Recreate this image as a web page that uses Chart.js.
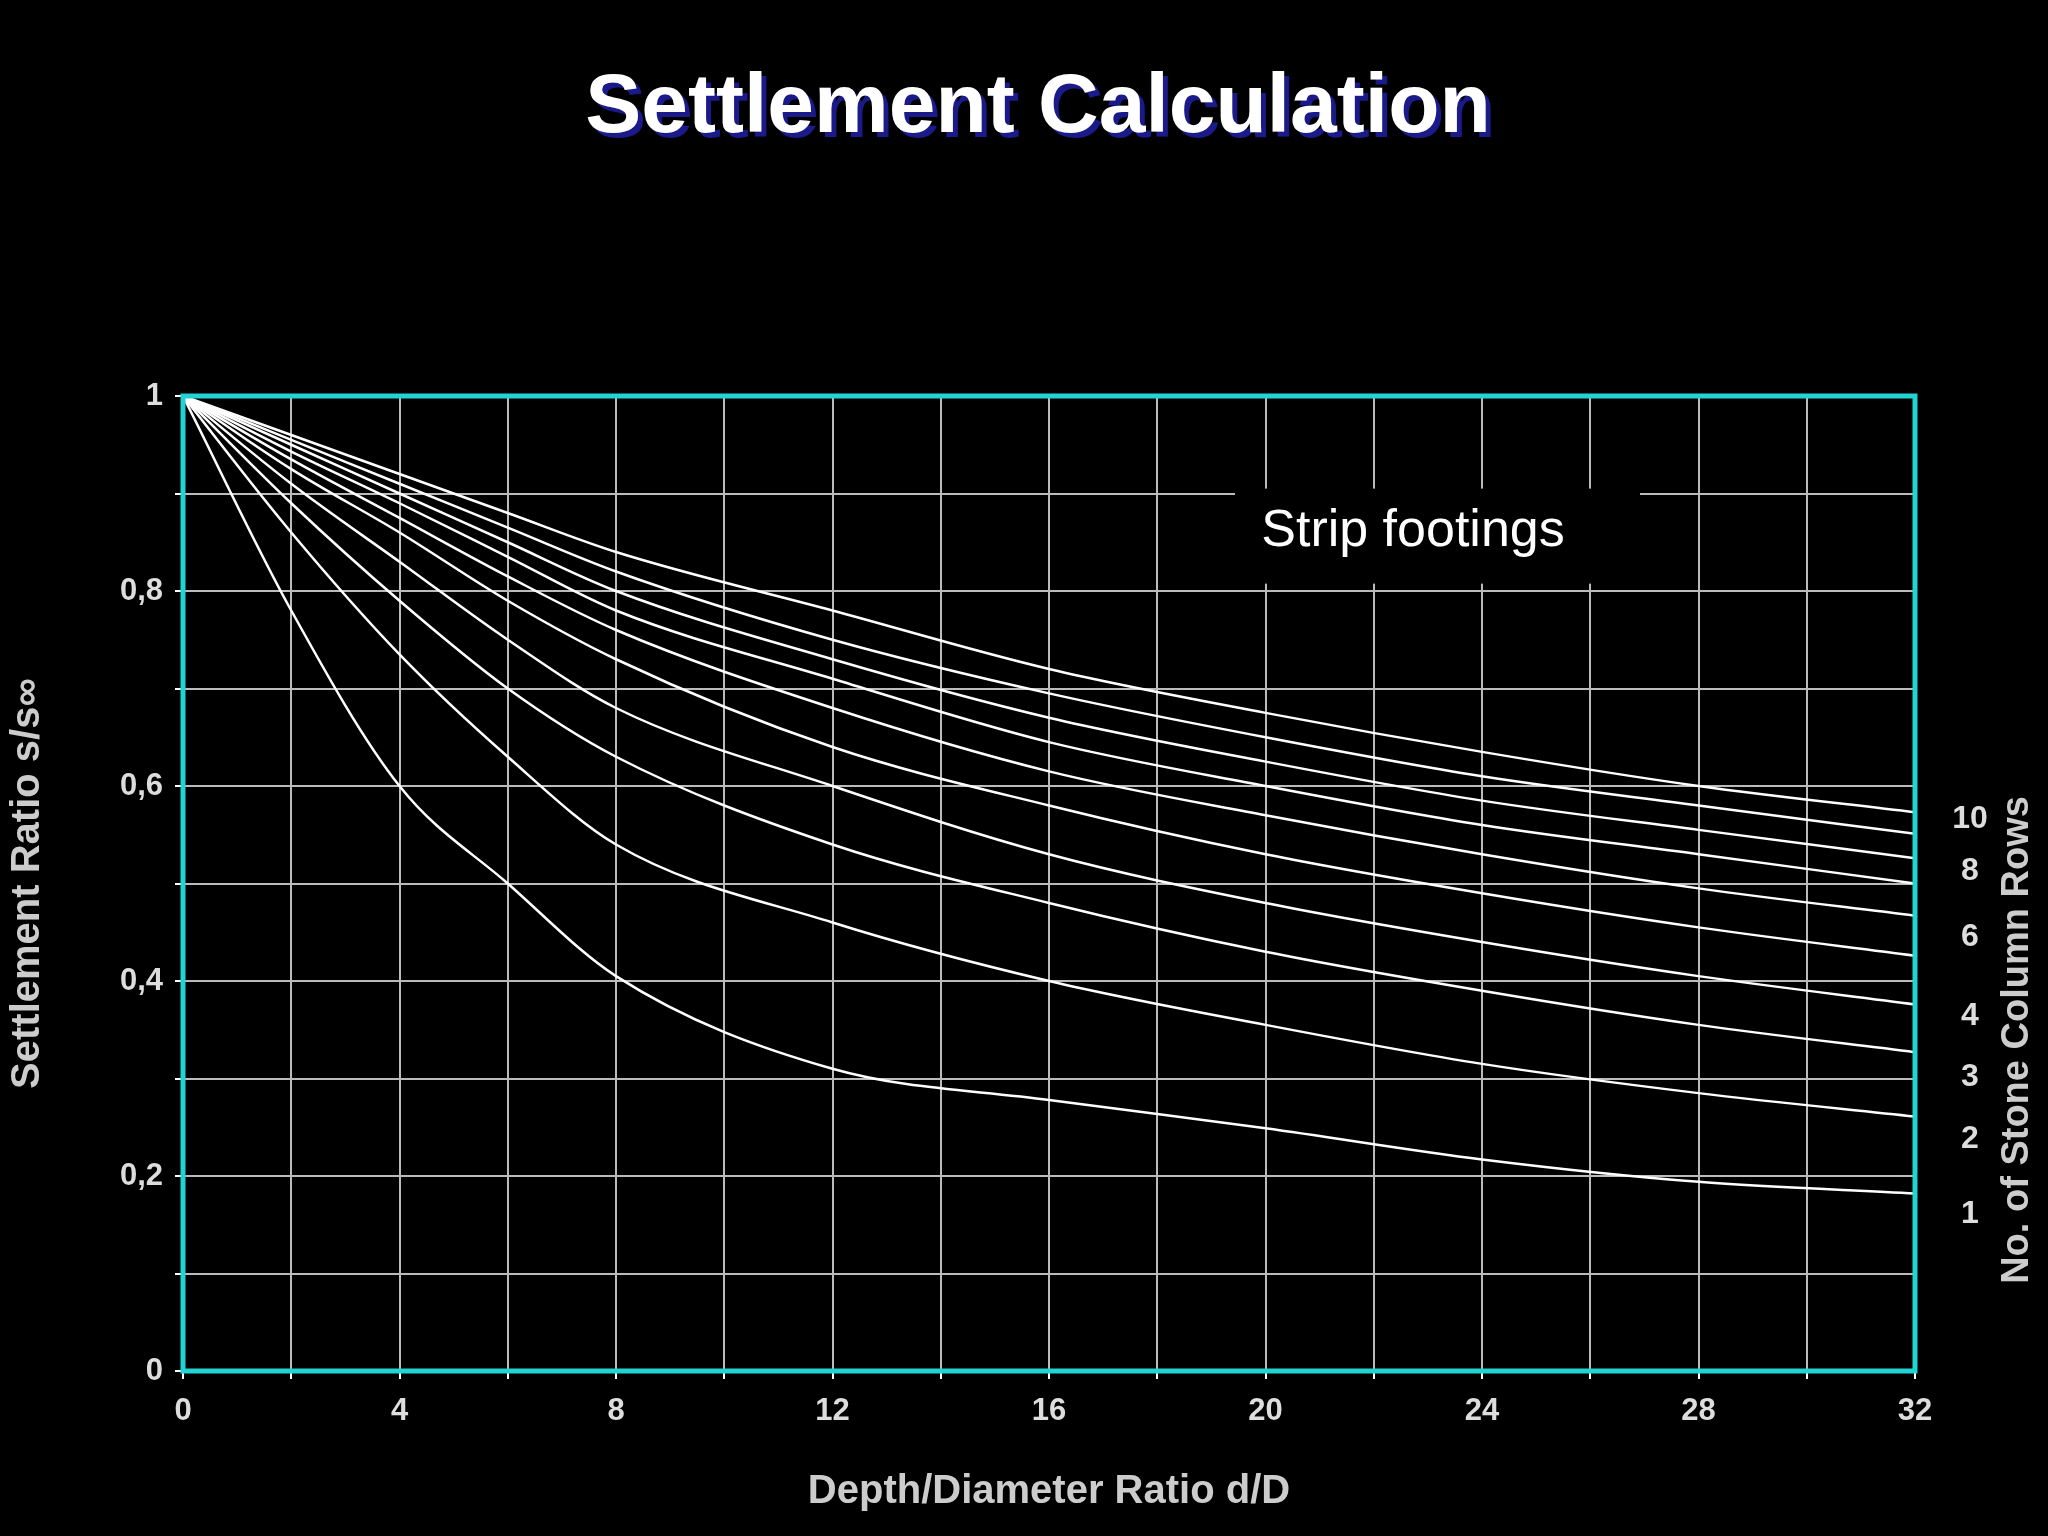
<!DOCTYPE html>
<html><head><meta charset="utf-8">
<script src="https://cdn.jsdelivr.net/npm/chart.js@4"></script>
<style>html,body{margin:0;background:#000;}canvas{display:block}</style>
</head><body>
<canvas id="c" width="2048" height="1536" style="width:2048px;height:1536px"></canvas>
<script>
const depthRatio = [0, 2, 4, 6, 8, 12, 16, 20, 24, 28, 32];
const rows1  = [1, 0.78, 0.60, 0.50, 0.405, 0.31, 0.278, 0.249, 0.217, 0.194, 0.182];
const rows2  = [1, 0.86, 0.735, 0.63, 0.54, 0.46, 0.40, 0.355, 0.315, 0.285, 0.261];
const rows3  = [1, 0.89, 0.79, 0.70, 0.63, 0.54, 0.48, 0.43, 0.39, 0.355, 0.327];
const rows4  = [1, 0.91, 0.83, 0.75, 0.68, 0.60, 0.53, 0.48, 0.44, 0.405, 0.376];
const rows5  = [1, 0.925, 0.86, 0.79, 0.73, 0.64, 0.58, 0.53, 0.49, 0.455, 0.426];
const rows6  = [1, 0.935, 0.875, 0.815, 0.76, 0.68, 0.615, 0.57, 0.53, 0.495, 0.467];
const rows7  = [1, 0.943, 0.89, 0.835, 0.78, 0.71, 0.645, 0.60, 0.56, 0.53, 0.50];
const rows8  = [1, 0.95, 0.90, 0.85, 0.80, 0.73, 0.67, 0.625, 0.585, 0.555, 0.526];
const rows9  = [1, 0.955, 0.91, 0.865, 0.82, 0.75, 0.695, 0.65, 0.61, 0.58, 0.551];
const rows10 = [1, 0.96, 0.92, 0.88, 0.84, 0.78, 0.72, 0.675, 0.635, 0.60, 0.573];
const allRows = [rows1, rows2, rows3, rows4, rows5, rows6, rows7, rows8, rows9, rows10];
const rowLabels = ['10', '8', '6', '4', '3', '2', '1'];
const rowLabelValues = [0.566, 0.513, 0.445, 0.364, 0.301, 0.238, 0.161];
const yTickLabels = {0:'0', 0.2:'0,2', 0.4:'0,4', 0.6:'0,6', 0.8:'0,8', 1:'1'};

const deco = {
  id: 'deco',
  beforeDraw(ch) {
    const c = ch.ctx; c.save(); c.fillStyle = '#000'; c.fillRect(0,0,ch.width,ch.height); c.restore();
  },
  afterDatasetsDraw(ch) {
    const c = ch.ctx, a = ch.chartArea, ys = ch.scales.y;
    c.save();
    c.fillStyle = '#000';
    c.fillRect(1235, ys.getPixelForValue(0.905), 405, 95);
    c.fillStyle = '#fff'; c.font = '52px "Liberation Sans", Arial'; c.textAlign = 'center'; c.textBaseline = 'middle';
    c.fillText('Strip footings', 1413, 532);
    c.strokeStyle = '#22d3d3'; c.lineWidth = 5;
    c.strokeRect(a.left, a.top, a.right - a.left, a.bottom - a.top);
    c.fillStyle = '#ddd'; c.font = 'bold 32px "Liberation Sans", Arial';
    rowLabels.forEach((l, i) => c.fillText(l, 1970, ys.getPixelForValue(rowLabelValues[i])));
    c.save(); c.translate(2018, 1040); c.rotate(-Math.PI/2);
    c.font = 'bold 38px "Liberation Sans", Arial'; c.fillStyle = '#ccc';
    c.fillText('No. of Stone Column Rows', 0, 0); c.restore();
    c.font = 'bold 84px "Liberation Sans", Arial';
    c.fillStyle = '#1a1a8a'; c.fillText('Settlement Calculation', 1043, 114);
    c.fillStyle = '#fff'; c.fillText('Settlement Calculation', 1038, 109);
    c.restore();
  }
};

new Chart(document.getElementById('c'), {
  type: 'line',
  data: { datasets: allRows.map((r, i) => ({
    label: 'Rows ' + (i+1),
    data: depthRatio.map((x, j) => ({x, y: r[j]})),
    borderColor: '#fff', borderWidth: 2.5, pointRadius: 0,
    cubicInterpolationMode: 'monotone', fill: false
  })) },
  options: {
    responsive: false, animation: false, devicePixelRatio: 1,
    layout: { padding: { top: 396, right: 133, bottom: 0, left: 0 } },
    plugins: { legend: { display: false }, tooltip: { enabled: false } },
    scales: {
      x: { type: 'linear', min: 0, max: 32,
        ticks: { stepSize: 2, color: '#ddd', font: { size: 31, weight: 'bold', family: 'Liberation Sans' },
          padding: 14, autoSkip: false, maxRotation: 0, callback: v => v % 4 === 0 ? v : '' },
        grid: { color: '#bbb', lineWidth: 2, tickLength: 8, tickColor: '#fff' },
        border: { display: false },
        title: { display: true, text: 'Depth/Diameter Ratio d/D', color: '#ccc',
          font: { size: 40, weight: 'bold', family: 'Liberation Sans' }, padding: { top: 8, bottom: 20 } },
        afterFit: s => { s.height = 165; }
      },
      y: { type: 'linear', min: 0, max: 1,
        ticks: { stepSize: 0.1, autoSkip: false, color: '#ddd', font: { size: 31, weight: 'bold', family: 'Liberation Sans' },
          padding: 12, callback: v => { const k = Math.round(v*10)/10; return yTickLabels[k] ?? ''; } },
        grid: { color: '#bbb', lineWidth: 2, tickLength: 8, tickColor: '#fff' },
        border: { display: false },
        title: { display: true, text: 'Settlement Ratio s/s∞', color: '#ccc',
          font: { size: 40, weight: 'bold', family: 'Liberation Sans' }, padding: { bottom: 20 } },
        afterFit: s => { s.width = 183; }
      }
    }
  },
  plugins: [deco]
});
</script>
</body></html>
